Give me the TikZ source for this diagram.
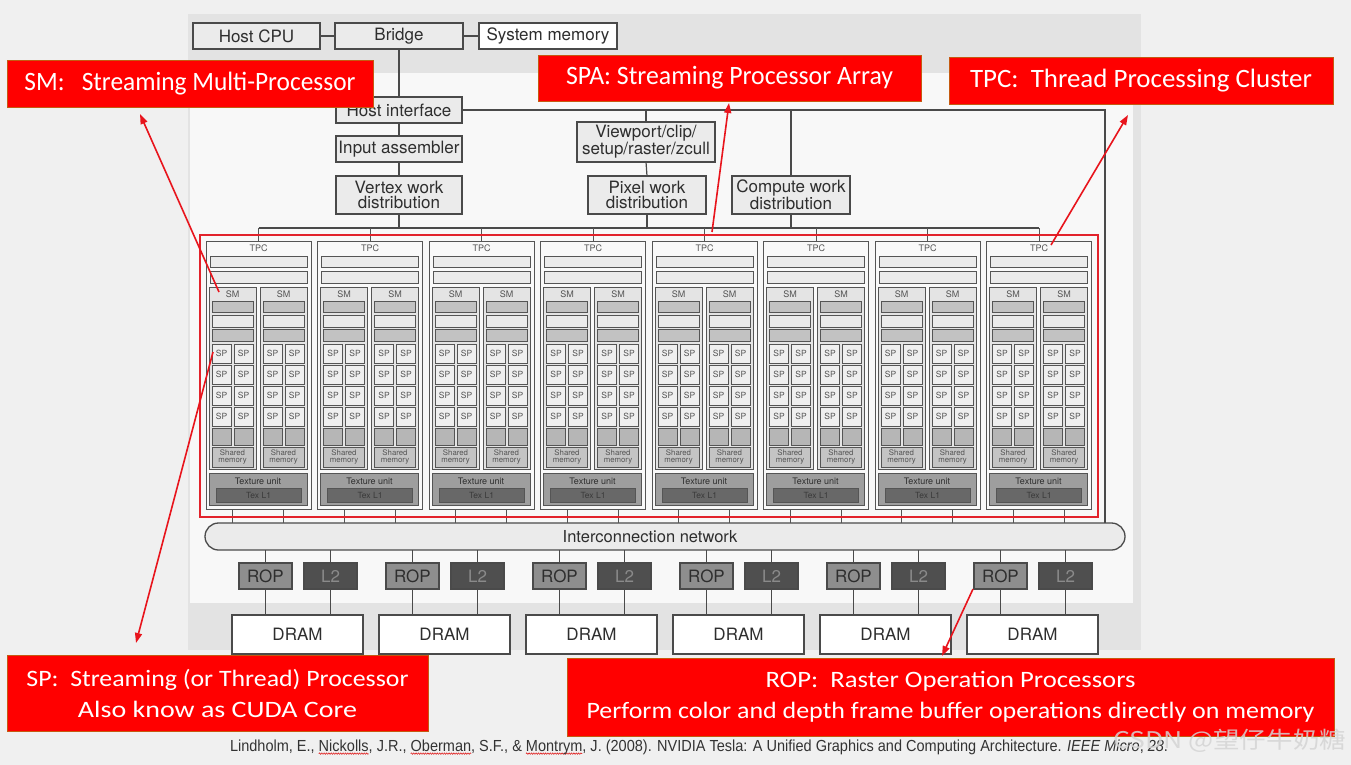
\documentclass[tikz,border=0pt]{standalone}
\usepackage{fontspec}
\usepackage{graphicx}
\setmainfont{TeX Gyre Heros}
\newfontfamily\cfont{Carlito}
\newfontfamily\citefont{Liberation Sans}
\newfontfamily\cjkfont{Noto Sans CJK SC}
\usetikzlibrary{arrows.meta,decorations.pathmorphing}

\definecolor{slidebg}{HTML}{F0F0F0}
\definecolor{imgband}{HTML}{E3E3E3}
\definecolor{imginner}{HTML}{F8F8F8}
\definecolor{bdr}{HTML}{4A4A4A}
\definecolor{bdrtwo}{HTML}{555555}
\definecolor{lite}{HTML}{EBEBEB}
\definecolor{txt}{HTML}{2E2E2E}
\definecolor{tpcfill}{HTML}{F9F9F9}
\definecolor{smfill}{HTML}{E4E4E4}
\definecolor{spfill}{HTML}{EFEFEF}
\definecolor{dkbar}{HTML}{C2C2C2}
\definecolor{sqfill}{HTML}{B6B6B6}
\definecolor{shfill}{HTML}{C4C4C4}
\definecolor{texfill}{HTML}{9E9E9E}
\definecolor{tlfill}{HTML}{686868}
\definecolor{tltxt}{HTML}{3A3A3A}
\definecolor{ropfill}{HTML}{8E8E8E}
\definecolor{ltfill}{HTML}{4F4F4F}
\definecolor{lttxt}{HTML}{8A8A8A}
\definecolor{calred}{HTML}{FF0000}
\definecolor{calbdr}{HTML}{C55A11}
\definecolor{spared}{HTML}{E2222B}
\definecolor{arrred}{HTML}{E8141C}
\definecolor{cittxt}{HTML}{333333}
\definecolor{sqred}{HTML}{E02020}

\newsavebox\sqbox
\newcommand\sq[1]{\sbox\sqbox{#1}\rlap{\tikz[overlay,x=1pt,y=1pt]{\draw[sqred,line width=0.6pt,decorate,decoration={snake,amplitude=0.7pt,segment length=2.6pt}] (0,-2.6) -- (\wd\sqbox,-2.6);}}\usebox\sqbox}
\newcommand\bx[7]{\node[#1, minimum width={(#5)-(#3)}, minimum height={(#6)-(#4)}] (#2) at ({((#3)+(#5))/2},{((#4)+(#6))/2}) {#7};}

\tikzset{
 base/.style={inner sep=0pt, outer sep=0pt, text=txt, align=center},
 bigbox/.style={base, draw=bdr, line width=1.3pt, fill=lite, font=\fontsize{17}{14.5}\selectfont},
 whitebox/.style={bigbox, fill=white},
 tpcbox/.style={base, draw=bdrtwo, line width=1pt, fill=tpcfill},
 litebar/.style={base, draw=bdrtwo, line width=0.9pt, fill=lite},
 darkbar/.style={base, draw=bdrtwo, line width=0.9pt, fill=dkbar},
 smbox/.style={base, draw=bdrtwo, line width=1pt, fill=smfill},
 spbox/.style={base, draw=bdrtwo, line width=0.9pt, fill=spfill, font=\fontsize{8.5}{9}\selectfont, text=bdrtwo},
 sqrbox/.style={base, draw=bdrtwo, line width=0.9pt, fill=sqfill},
 shbox/.style={base, draw=bdrtwo, line width=0.9pt, fill=shfill, font=\fontsize{7.8}{7}\selectfont, text=bdrtwo},
 texbox/.style={base, draw=bdrtwo, line width=1pt, fill=texfill},
 tlbox/.style={base, draw=bdrtwo, line width=1pt, fill=tlfill, font=\fontsize{8.5}{9}\selectfont, text=tltxt},
 smalltxt/.style={base, font=\fontsize{9}{10}\selectfont, text=bdrtwo},
 ropbox/.style={bigbox, fill=ropfill},
 ltbox/.style={bigbox, fill=ltfill, text=lttxt},
 icnbox/.style={base, draw=bdr, line width=1.3pt, fill=lite, rounded corners=13.5pt, font=\fontsize{16.5}{17}\selectfont},
 sparect/.style={base, draw=spared, line width=1.8pt},
 wire/.style={draw=bdr, line width=1.2pt},
 thinwire/.style={draw=bdrtwo, line width=1pt},
 callout/.style={base, fill=calred, draw=calbdr, line width=0.8pt, text=white, font=\cfont\fontsize{26.5}{30}\selectfont},
 callouttwo/.style={callout, font=\cfont\fontsize{23.5}{31}\selectfont},
 arr/.style={draw=arrred, line width=1.6pt, -{Triangle[length=10pt,width=7pt]}},
}

\begin{document}
\begin{tikzpicture}[x=1pt,y=-1pt]
\useasboundingbox (0,0) rectangle (1351,765);
% backgrounds
\fill[slidebg] (0,0) rectangle (1351,765);
\fill[imgband] (188,14) rectangle (1141,650);
\fill[imginner] (190,73) rectangle (1133,603);

% top row
\bx{bigbox}{cpu}{193}{23}{320}{49}{Host CPU}
\bx{bigbox}{bridge}{335}{23}{463}{49}{Bridge}
\bx{whitebox}{sysmem}{479}{23}{617}{49}{System memory}
\bx{bigbox}{hif}{336}{97}{462}{123}{Host interface}
\bx{bigbox}{ia}{336}{136}{462}{162}{Input assembler}
\bx{bigbox}{vwd}{336}{176}{462}{214}{Vertex work\\distribution}
\bx{bigbox}{vp}{577}{122}{715}{162}{Viewport/clip/\\setup/raster/zcull}
\bx{bigbox}{pwd}{588}{176}{706}{214}{Pixel work\\distribution}
\bx{bigbox}{cwd}{732}{176}{850}{214}{Compute work\\distribution}

% interconnect
\bx{icnbox}{icn}{205}{523}{1125}{550}{Interconnection network\hspace*{30pt}}

\coordinate (busL) at (258.5,228);
\coordinate (busR) at (1039,228);
\coordinate (fr) at (1105,110);

\draw[wire] (cpu.east) -- (bridge.west);
\draw[wire] (bridge.east) -- (sysmem.west);
\draw[wire] (bridge.south) -- (hif.north);
\draw[wire] (hif.south) -- (ia.north);
\draw[wire] (ia.south) -- (vwd.north);
\draw[wire] (vwd.south) -- (vwd.south |- busL);
\draw[wire] (hif.east) -- (fr) -- (fr |- icn.north);
\draw[wire] (vp.north |- fr) -- (vp.north);
\draw[wire] (vp.south) -- (pwd.north);
\draw[wire] (pwd.south) -- (pwd.south |- busL);
\draw[wire] (cwd.north |- fr) -- (cwd.north);
\draw[wire] (cwd.south) -- (cwd.south |- busL);
\draw[wire] (busL) -- (busR);

% TPCs
\foreach \i in {0,...,7}{
 \pgfmathsetmacro\L{206+111.5*\i}
 \bx{tpcbox}{tpc\i}{\L}{241}{\L+105}{509}{}
 \draw[thinwire] (tpc\i.north) -- (tpc\i.north |- busL);
 \node[smalltxt] (tpcl\i) at ({\L+52.5},248.5) {TPC};
 \bx{litebar}{tba\i}{\L+4}{256}{\L+101}{267}{}
 \bx{litebar}{tbb\i}{\L+4}{271}{\L+101}{283}{}
 \foreach \s in {0,1}{
   \pgfmathsetmacro\S{\L+3+51*\s}
   \bx{smbox}{sm\i\s}{\S}{287}{\S+47}{469}{}
   \node[smalltxt] (sml\i\s) at ({\S+23.5},294.5) {SM};
   \bx{darkbar}{sba\i\s}{\S+3}{301}{\S+44}{312}{}
   \bx{litebar}{sbb\i\s}{\S+3}{315}{\S+44}{327}{}
   \bx{darkbar}{sbc\i\s}{\S+3}{329}{\S+44}{341}{}
   \foreach \r in {0,...,3}{
     \foreach \c in {0,1}{
       \bx{spbox}{sp\i\s\r\c}{\S+3+22*\c}{344+21*\r}{\S+22+22*\c}{363+21*\r}{SP}
     }
   }
   \foreach \c in {0,1}{
     \bx{sqrbox}{sq\i\s\c}{\S+3+22*\c}{428}{\S+22+22*\c}{445}{}
   }
   \bx{shbox}{sh\i\s}{\S+3}{447}{\S+44}{467}{Shared\\memory}
   \draw[thinwire] (sm\i\s.south |- tpc\i.south) -- (sm\i\s.south |- icn.north);
 }
 \bx{texbox}{tex\i}{\L+3}{473}{\L+101}{505}{}
 \node[smalltxt, text=txt] (texl\i) at ({\L+52},481) {Texture unit};
 \bx{tlbox}{tlone\i}{\L+10}{488}{\L+95}{502}{Tex L1}
}

% SPA red frame
\bx{sparect}{spa}{200}{235}{1098}{517}{}

% ROP / L2 / DRAM
\foreach \j in {0,...,5}{
 \pgfmathsetmacro\R{239+147*\j}
 \bx{ropbox}{rop\j}{\R}{563}{\R+53}{589}{ROP}
 \bx{ltbox}{ltwo\j}{\R+65}{563}{\R+118}{589}{L2}
 \bx{whitebox}{dram\j}{\R-7}{615}{\R+124}{654}{DRAM}
 \draw[wire] (rop\j.north) -- (rop\j.north |- icn.south);
 \draw[wire] (ltwo\j.north) -- (ltwo\j.north |- icn.south);
 \draw[wire] (rop\j.south) -- (rop\j.south |- dram\j.north);
 \draw[wire] (ltwo\j.south) -- (ltwo\j.south |- dram\j.north);
}

% callouts
\bx{callout}{smc}{7}{60}{373}{107}{\resizebox{331pt}{\height}{SM:\ \ \ Streaming Multi-Processor}}
\bx{callout}{spac}{538}{55}{921}{101}{\resizebox{327pt}{\height}{SPA: Streaming Processor Array}}
\bx{callout}{tpcc}{949}{57}{1333}{104}{\resizebox{342pt}{\height}{TPC:\ \ Thread Processing Cluster}}
\bx{callouttwo}{spc}{7}{655}{428}{731}{\resizebox{382pt}{\height}{SP:\ \ Streaming (or Thread) Processor}\\\resizebox{279pt}{\height}{Also know as CUDA Core}}
\bx{callouttwo}{ropc}{567}{658}{1334}{736}{\resizebox{370pt}{\height}{ROP:\ \ Raster Operation Processors}\\\resizebox{728pt}{\height}{Perform color and depth frame buffer operations directly on memory}}

% citation
\node[base, anchor=base west, font=\citefont\fontsize{16}{18}\selectfont, text=cittxt] (cite) at (230,751) {\resizebox{938pt}{\height}{Lindholm, E., \sq{Nickolls}, J.R., \sq{Oberman}, S.F., \& \sq{Montrym}, J. (2008). NVIDIA Tesla: A Unified Graphics and Computing Architecture. \textit{IEEE Micro}, \textit{28}.}};

% watermark
\node[base, anchor=west, font=\cjkfont\fontsize{23}{25}\selectfont, text=black!17, opacity=0.85] (wm) at (1113,741) {\resizebox{233pt}{\height}{CSDN @望仔牛奶糖}};

% annotation arrows
\coordinate (smA) at (219,292);  \coordinate (smT) at (140,114);
\coordinate (spA) at (213,352);  \coordinate (spT) at (136,643);
\coordinate (spaA) at (712,232); \coordinate (spaT) at (729,103);
\coordinate (tpcA) at (1051,245); \coordinate (tpcT) at (1128,115);
\coordinate (ropA) at (973,589); \coordinate (ropT) at (942,656);
\draw[arr] (smA) -- (smT);
\draw[arr] (spA) -- (spT);
\draw[arr] (spaA) -- (spaT);
\draw[arr] (tpcA) -- (tpcT);
\draw[arr] (ropA) -- (ropT);
\end{tikzpicture}
\end{document}
